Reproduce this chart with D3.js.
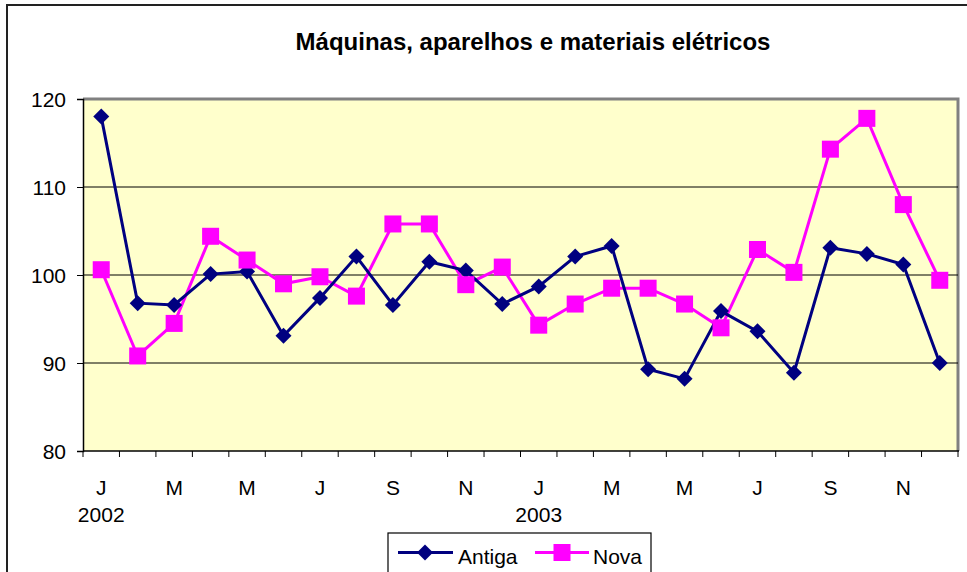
<!DOCTYPE html>
<html lang="pt-br">
<head>
<meta charset="utf-8">
<script src="https://cdn.jsdelivr.net/npm/d3@7"></script>
<style>
  body { margin: 0; background: #fff; }
  svg text { font-family: "Liberation Sans", Arial, sans-serif; fill: #000; }
</style>
</head>
<body>
<svg id="chart" width="967" height="572"></svg>
<script>
// monthly index, Jan 2002 .. Dec 2003
const months = ["J","F","M","A","M","J","J","A","S","O","N","D",
                "J","F","M","A","M","J","J","A","S","O","N","D"];
const years = {0: "2002", 12: "2003"};
const antiga = [118.0, 96.8, 96.6, 100.1, 100.4, 93.1, 97.4, 102.1, 96.6, 101.5, 100.5, 96.7,
                98.7, 102.1, 103.3, 89.3, 88.2, 95.9, 93.6, 88.9, 103.1, 102.4, 101.2, 90.0];
const nova   = [100.6, 90.8, 94.5, 104.4, 101.7, 99.0, 99.8, 97.6, 105.8, 105.8, 98.9, 100.9,
                94.3, 96.7, 98.5, 98.5, 96.7, 94.0, 102.9, 100.3, 114.3, 117.8, 108.0, 99.4];
const yTicks = [80, 90, 100, 110, 120];

const svg = d3.select("#chart");
const pLeft = 83, pRight = 958, pTop = 99, pBottom = 451;
const fs = 21;

const x = d3.scaleBand().domain(d3.range(months.length)).range([pLeft, pRight]);
const y = d3.scaleLinear().domain([80, 120]).range([pBottom, pTop]);

// outer frame
svg.append("path").attr("d", `M7,572 V5 H967`)
  .attr("fill", "none").attr("stroke", "#222").attr("stroke-width", 2);

// title
svg.append("text").attr("x", 533).attr("y", 50)
  .attr("text-anchor", "middle").attr("font-size", 24).attr("font-weight", "bold")
  .text("Máquinas, aparelhos e materiais elétricos");

// plot area
svg.append("rect").attr("x", pLeft).attr("y", pTop)
  .attr("width", pRight - pLeft).attr("height", pBottom - pTop)
  .attr("fill", "#FFFFCC");
svg.append("path").attr("d", `M${pLeft},${pTop} H${pRight} V${pBottom}`)
  .attr("fill", "none").attr("stroke", "#808080").attr("stroke-width", 3);

// gridlines
svg.append("g").selectAll("line").data(yTicks.filter(d => d > 80 && d < 120)).enter()
  .append("line").attr("x1", pLeft).attr("x2", pRight)
  .attr("y1", d => y(d)).attr("y2", d => y(d))
  .attr("stroke", "#000").attr("stroke-width", 1);

// y axis
const yAxis = svg.append("g").attr("transform", `translate(${pLeft},0)`)
  .call(d3.axisLeft(y).tickValues(yTicks).tickSize(6).tickPadding(11));
yAxis.select(".domain").attr("stroke", "#000").attr("stroke-width", 1.5);
yAxis.selectAll("text").attr("font-size", fs).attr("dy", "0.36em")
  .attr("font-family", "Liberation Sans, Arial, sans-serif");

// x axis
const xg = svg.append("g");
xg.append("line").attr("x1", pLeft).attr("x2", pRight + 1)
  .attr("y1", pBottom).attr("y2", pBottom).attr("stroke", "#000").attr("stroke-width", 1.5);
xg.selectAll("line.tick").data(d3.range(months.length + 1)).enter()
  .append("line").attr("class", "tick")
  .attr("x1", d => pLeft + d * x.step()).attr("x2", d => pLeft + d * x.step())
  .attr("y1", pBottom).attr("y2", pBottom + 6).attr("stroke", "#000");
xg.selectAll("text.m").data(d3.range(0, months.length, 2)).enter()
  .append("text").attr("class", "m")
  .attr("x", d => x(d) + x.bandwidth() / 2).attr("y", 495)
  .attr("text-anchor", "middle").attr("font-size", fs)
  .text(d => months[d]);
xg.selectAll("text.yr").data(Object.keys(years).map(Number)).enter()
  .append("text").attr("class", "yr")
  .attr("x", d => x(d) + x.bandwidth() / 2).attr("y", 522)
  .attr("text-anchor", "middle").attr("font-size", fs)
  .text(d => years[d]);

const cx = (d, i) => x(i) + x.bandwidth() / 2;
const line = d3.line().x(cx).y(d => y(d));

// series
svg.append("path").datum(nova).attr("d", line)
  .attr("fill", "none").attr("stroke", "#FF00FF").attr("stroke-width", 3);
svg.append("path").datum(antiga).attr("d", line)
  .attr("fill", "none").attr("stroke", "#000080").attr("stroke-width", 3);

const diamond = d3.symbol().type(d3.symbolSquare).size(128);

svg.append("g").selectAll("path").data(antiga).enter()
  .append("path").attr("d", diamond)
  .attr("transform", (d, i) => `translate(${cx(d, i)},${y(d)}) rotate(45)`)
  .attr("fill", "#000080");
svg.append("g").selectAll("rect").data(nova).enter()
  .append("rect").attr("width", 17).attr("height", 17)
  .attr("x", (d, i) => cx(d, i) - 8.5).attr("y", d => y(d) - 8.5)
  .attr("fill", "#FF00FF");

// legend
const lg = svg.append("g");
lg.append("rect").attr("x", 388).attr("y", 533).attr("width", 263).attr("height", 50)
  .attr("fill", "#fff").attr("stroke", "#000").attr("stroke-width", 1.2);
lg.append("line").attr("x1", 398).attr("x2", 453).attr("y1", 552.5).attr("y2", 552.5)
  .attr("stroke", "#000080").attr("stroke-width", 3);
lg.append("path").attr("d", diamond)
  .attr("transform", "translate(425,552.5) rotate(45)").attr("fill", "#000080");
lg.append("text").attr("x", 458).attr("y", 564).attr("font-size", fs).text("Antiga");
lg.append("line").attr("x1", 535).attr("x2", 589).attr("y1", 552.5).attr("y2", 552.5)
  .attr("stroke", "#FF00FF").attr("stroke-width", 3);
lg.append("rect").attr("x", 553.5).attr("y", 544).attr("width", 17).attr("height", 17)
  .attr("fill", "#FF00FF");
lg.append("text").attr("x", 593).attr("y", 564).attr("font-size", fs).text("Nova");
</script>
</body>
</html>
